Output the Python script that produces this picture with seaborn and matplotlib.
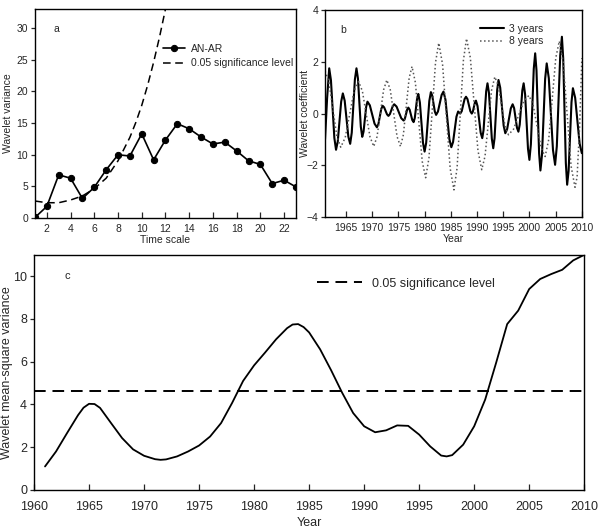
import numpy as np
import pandas as pd
import matplotlib
matplotlib.use("Agg")
import matplotlib.pyplot as plt
import seaborn as sns

# --- panel a: wavelet variance vs time scale
scale = list(range(1, 24))
an_ar = [0.1, 1.85, 6.83, 6.3, 3.1, 4.87, 7.62, 10.0, 9.8, 13.3, 9.2, 12.33,
         14.9, 14.1, 12.8, 11.7, 12.0, 10.6, 9.05, 8.47, 5.45, 5.98, 4.92]
sig_scale = [1, 2, 3, 4, 5, 6, 7, 8, 9, 9.5, 10, 10.5, 11, 11.5, 12]
sig_var = [2.7, 2.43, 2.43, 2.86, 3.5, 4.65, 6.3, 9.05, 12.75, 15.1, 17.8,
           21.0, 24.6, 28.6, 33.0]

# --- panel b: wavelet coefficients, 3-year period
yr3 = [1961.0, 1961.4, 1961.8, 1962.13, 1962.78, 1963.1, 1963.43, 1964.08,
       1964.4, 1964.75, 1965.45, 1965.8, 1966.1, 1966.7, 1967.0, 1967.28,
       1967.83, 1968.1, 1968.35, 1968.85, 1969.1, 1969.55, 1970.45, 1970.9,
       1971.18, 1971.73, 1972.0, 1972.28, 1972.83, 1973.1, 1973.38, 1973.93,
       1974.2, 1974.65, 1975.55, 1976.0, 1976.23, 1976.68, 1976.9, 1977.15,
       1977.65, 1977.9, 1978.13, 1978.58, 1978.8, 1979.1, 1979.7, 1980.0,
       1980.3, 1980.9, 1981.2, 1981.45, 1981.95, 1982.2, 1982.55, 1983.25,
       1983.6, 1983.98, 1984.73, 1985.1, 1985.43, 1986.08, 1986.4, 1986.8,
       1987.08, 1987.63, 1987.9, 1988.18, 1988.73, 1989.0, 1989.2, 1989.6,
       1989.8, 1990.1, 1990.7, 1991.0, 1991.25, 1991.75, 1992.0, 1992.28,
       1992.83, 1993.1, 1993.35, 1993.85, 1994.1, 1994.43, 1995.08, 1995.4,
       1995.75, 1996.45, 1996.8, 1997.08, 1997.63, 1997.9, 1998.15, 1998.65,
       1998.9, 1999.18, 1999.73, 2000.0, 2000.28, 2000.83, 2001.1, 2001.35,
       2001.85, 2002.1, 2002.4, 2003.0, 2003.3, 2003.7, 2004.5, 2004.9,
       2005.23, 2005.88, 2006.2, 2006.45, 2006.95, 2007.2, 2007.48, 2008.03,
       2008.3, 2008.73, 2009.58, 2010.0]
coef3 = [-1.0, 0.6, 1.75, 1.29, -0.94, -1.4, -1.08, 0.46,
         0.78, 0.50, -0.89, -1.17, -0.74, 1.32, 1.75, 1.36,
         -0.51, -0.9, -0.70, 0.26, 0.46, 0.32, -0.39, -0.53,
         -0.41, 0.18, 0.30, 0.24, -0.03, -0.09, -0.02, 0.29,
         0.36, 0.27, -0.18, -0.27, -0.20, 0.16, 0.23, 0.15,
         -0.25, -0.33, -0.17, 0.60, 0.76, 0.43, -1.14, -1.47,
         -1.13, 0.49, 0.83, 0.70, 0.08, -0.05, 0.08, 0.72,
         0.85, 0.54, -0.99, -1.3, -1.10, -0.12, 0.08, 0.0,
         0.09, 0.56, 0.65, 0.56, 0.09, 0.0, 0.07, 0.43,
         0.5, 0.29, -0.74, -0.95, -0.64, 0.86, 1.17, 0.80,
         -0.97, -1.34, -0.95, 0.91, 1.3, 1.0, -0.46, -0.76,
         -0.60, 0.20, 0.36, 0.21, -0.55, -0.7, -0.43, 0.90,
         1.17, 0.74, -1.36, -1.79, -1.19, 1.73, 2.33, 1.67,
         -1.54, -2.2, -1.60, 1.34, 1.94, 1.37, -1.41, -1.98,
         -1.26, 2.25, 2.97, 2.13, -1.91, -2.75, -2.21, 0.44,
         0.98, 0.61, -1.16, -1.53]

# --- panel b: wavelet coefficients, 8-year period
yr8 = [1961.0, 1961.75, 1963.25, 1964.0, 1964.85, 1966.55, 1967.4, 1968.13,
       1969.58, 1970.3, 1970.93, 1972.18, 1972.8, 1973.45, 1974.75, 1975.4,
       1975.95, 1977.05, 1977.6, 1978.25, 1979.55, 1980.2, 1980.83, 1982.08,
       1982.7, 1983.43, 1984.88, 1985.6, 1986.2, 1987.4, 1988.0, 1988.73,
       1990.18, 1990.9, 1991.53, 1992.78, 1993.4, 1994.05, 1995.35, 1996.0,
       1996.98, 1998.93, 1999.9, 2000.68, 2002.23, 2003.0, 2003.68, 2005.03,
       2005.7, 2006.45, 2007.95, 2008.7, 2009.1, 2009.6, 2010.0]
coef8 = [1.65, 1.22, -0.87, -1.3, -0.93, 0.87, 1.24, 0.87,
         -0.90, -1.27, -0.89, 0.92, 1.3, 0.92, -0.89, -1.27,
         -0.82, 1.37, 1.82, 1.19, -1.85, -2.48, -1.72, 1.97,
         2.73, 1.90, -2.12, -2.95, -2.10, 2.05, 2.9, 2.16,
         -1.43, -2.17, -1.65, 0.90, 1.42, 1.09, -0.49, -0.82,
         -0.60, 0.48, 0.7, 0.36, -1.32, -1.66, -1.01, 2.15,
         2.8, 1.98, -2.03, -2.85, -2.45, -0.4, 2.14]

# --- panel c: wavelet mean-square variance
years = [1961, 1962, 1963, 1964, 1964.5, 1965, 1965.5, 1966, 1967, 1968,
         1969, 1970, 1971, 1971.5, 1972, 1973, 1974, 1975, 1976, 1977,
         1978, 1979, 1980, 1981, 1982, 1983, 1983.5, 1984, 1984.5, 1985,
         1986, 1987, 1988, 1989, 1990, 1991, 1992, 1993, 1994, 1995,
         1996, 1997, 1997.5, 1998, 1999, 2000, 2001, 2002, 2003, 2004,
         2005, 2006, 2007, 2008, 2009, 2010]
msv = [1.1, 1.8, 2.66, 3.5, 3.85, 4.03, 4.02, 3.84, 3.13, 2.43,
       1.9, 1.6, 1.44, 1.41, 1.43, 1.57, 1.8, 2.08, 2.5, 3.13,
       4.07, 5.1, 5.83, 6.43, 7.05, 7.57, 7.74, 7.76, 7.62, 7.37,
       6.58, 5.6, 4.55, 3.6, 2.98, 2.7, 2.79, 3.02, 3.0, 2.59,
       2.04, 1.61, 1.57, 1.63, 2.12, 2.98, 4.23, 5.96, 7.76, 8.39,
       9.4, 9.87, 10.1, 10.3, 10.74, 11.0]
msv_sig = 4.62

sns.set_style("ticks")
plt.rcParams['font.family'] = ['Liberation Sans', 'DejaVu Sans']

fig = plt.figure(figsize=(6, 5.32), dpi=100)
ax_a = fig.add_axes([0.0583, 0.590, 0.435, 0.393])
ax_b = fig.add_axes([0.5417, 0.592, 0.428, 0.389])
ax_c = fig.add_axes([0.0567, 0.079, 0.917, 0.442])

fs = 7.5

# a
sns.lineplot(x=scale, y=an_ar, ax=ax_a, color="black", lw=1.2, marker="o",
             markersize=4.5, markeredgecolor="black", label="AN-AR")
sns.lineplot(x=sig_scale, y=sig_var, ax=ax_a, color="black", lw=1.1,
             label="0.05 significance level")
ax_a.lines[1].set_dashes((5, 3))
ax_a.set_xlim(1, 23)
ax_a.set_ylim(0, 33)
ax_a.set_xticks(range(2, 23, 2))
ax_a.set_yticks(range(0, 31, 5))
ax_a.set_xlabel("Time scale", fontsize=fs, labelpad=1)
ax_a.set_ylabel("Wavelet variance", fontsize=fs)
ax_a.yaxis.set_label_coords(-0.084, 0.5)
ax_a.text(0.07, 0.93, "a", transform=ax_a.transAxes, fontsize=fs, va="top")
ax_a.legend(loc="upper left", bbox_to_anchor=(0.47, 0.86), frameon=False,
            fontsize=fs, handlelength=2.1, handletextpad=0.6,
            labelspacing=0.45, borderpad=0)

# b
sns.lineplot(x=yr3, y=coef3, ax=ax_b, color="black", lw=1.5, label="3 years")
sns.lineplot(x=yr8, y=coef8, ax=ax_b, color="#555555", lw=1.1, label="8 years")
ax_b.lines[1].set_linestyle(":")
ax_b.set_xlim(1961, 2010)
ax_b.set_ylim(-4, 4)
ax_b.set_xticks(range(1965, 2011, 5))
ax_b.set_yticks(range(-4, 5, 2))
ax_b.set_xlabel("Year", fontsize=fs, labelpad=1)
ax_b.set_ylabel("Wavelet coefficient", fontsize=fs)
ax_b.yaxis.set_label_coords(-0.058, 0.5)
ax_b.text(0.06, 0.93, "b", transform=ax_b.transAxes, fontsize=fs, va="top")
ax_b.legend(loc="upper left", bbox_to_anchor=(0.585, 0.96), frameon=False,
            fontsize=fs, handlelength=2.3, handletextpad=0.4,
            labelspacing=0.25, borderpad=0)

# c
sns.lineplot(x=years, y=msv, ax=ax_c, color="black", lw=1.3)
ax_c.axhline(msv_sig, color="black", lw=1.4, dashes=(6, 3.5),
             label="0.05 significance level")
ax_c.set_xlim(1960, 2010)
ax_c.set_ylim(0, 11)
ax_c.set_xticks(range(1960, 2011, 5))
ax_c.set_yticks(range(0, 11, 2))
ax_c.set_xlabel("Year", fontsize=9, labelpad=3)
ax_c.set_ylabel("Wavelet mean-square variance", fontsize=9)
ax_c.yaxis.set_label_coords(-0.038, 0.5)
ax_c.text(0.055, 0.93, "c", transform=ax_c.transAxes, fontsize=8, va="top")
ax_c.legend(loc="upper left", bbox_to_anchor=(0.503, 0.93), frameon=False,
            fontsize=9, handlelength=3.6, handletextpad=0.8, borderpad=0)

for ax in (ax_a, ax_b, ax_c):
    for sp in ax.spines.values():
        sp.set_linewidth(1.0)
        sp.set_color("black")
    ax.tick_params(axis="x", direction="in", length=4, width=0.9, pad=4)
    ax.tick_params(axis="y", direction="out", length=3, width=0.9, pad=2)
for ax in (ax_a, ax_b):
    ax.tick_params(labelsize=fs)
ax_c.tick_params(labelsize=9)
ax_c.tick_params(axis="x", pad=8)

fig.savefig("out.png", dpi=100)
